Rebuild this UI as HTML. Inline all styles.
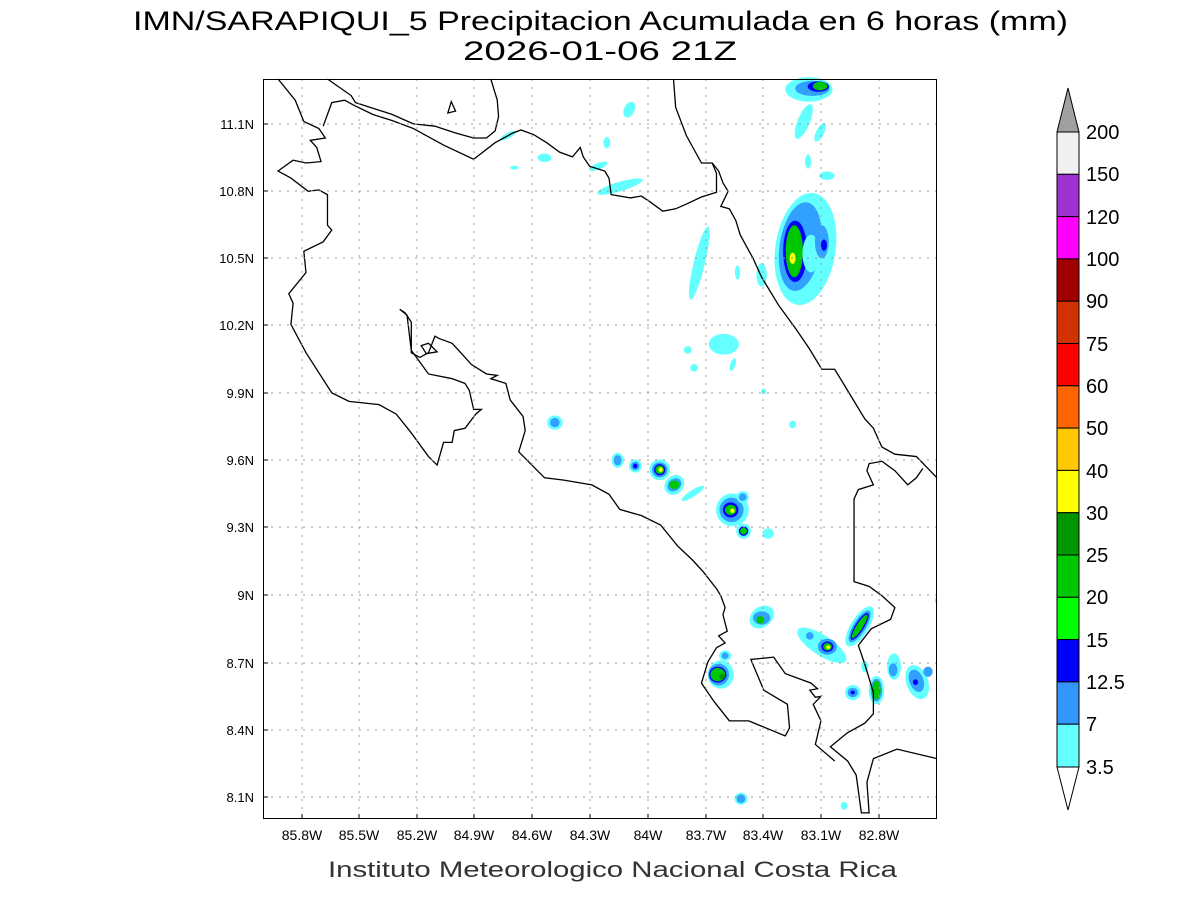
<!DOCTYPE html>
<html><head><style>
body{margin:0;background:#fff;}
svg text{font-family:"Liberation Sans",sans-serif;}
</style></head><body>
<svg width="1200" height="900" viewBox="0 0 1200 900" xmlns="http://www.w3.org/2000/svg">
<rect width="1200" height="900" fill="#fff"/>
<text x="133" y="30" font-size="27" textLength="935" lengthAdjust="spacingAndGlyphs" fill="#000">IMN/SARAPIQUI_5 Precipitacion Acumulada en 6 horas (mm)</text>
<text x="463" y="60" font-size="27" textLength="274" lengthAdjust="spacingAndGlyphs" fill="#000">2026-01-06 21Z</text>

<g transform="translate(263,79) scale(0.42985,0.47194)">
 <g>
  <ellipse cx="1262" cy="360" rx="70" ry="120" fill="#64ffff" transform="rotate(10 1262 360)"/>
  <ellipse cx="1250" cy="355" rx="48" ry="95" fill="#32a0ff" transform="rotate(10 1250 355)"/>
  <ellipse cx="1238" cy="365" rx="28" ry="65" fill="#0000ff"/>
  <ellipse cx="1236" cy="365" rx="20" ry="55" fill="#00c800"/>
  <ellipse cx="1232" cy="380" rx="7" ry="12" fill="#ffff00"/>
  <ellipse cx="1275" cy="370" rx="20" ry="40" fill="#64ffff"/>
  <ellipse cx="1300" cy="345" rx="16" ry="35" fill="#32a0ff"/>
  <ellipse cx="1305" cy="352" rx="7" ry="12" fill="#0000ff"/>
  <ellipse cx="1270" cy="22" rx="55" ry="26" fill="#64ffff"/>
  <ellipse cx="1278" cy="20" rx="40" ry="16" fill="#32a0ff"/>
  <ellipse cx="1292" cy="16" rx="25" ry="11" fill="#0000ff"/>
  <ellipse cx="1296" cy="15" rx="17" ry="9" fill="#00c800"/>
  <ellipse cx="1258" cy="90" rx="14" ry="40" fill="#64ffff" transform="rotate(25 1258 90)"/>
  <ellipse cx="1296" cy="113" rx="9" ry="22" fill="#64ffff" transform="rotate(30 1296 113)"/>
  <ellipse cx="1268" cy="175" rx="7" ry="15" fill="#64ffff"/>
  <ellipse cx="1312" cy="205" rx="18" ry="9" fill="#64ffff"/>
  <ellipse cx="852" cy="65" rx="12" ry="18" fill="#64ffff" transform="rotate(30 852 65)"/>
  <ellipse cx="800" cy="135" rx="8" ry="12" fill="#64ffff"/>
  <ellipse cx="655" cy="167" rx="16" ry="9" fill="#64ffff"/>
  <ellipse cx="585" cy="188" rx="10" ry="4" fill="#64ffff"/>
  <ellipse cx="570" cy="120" rx="20" ry="6" fill="#64ffff" transform="rotate(-25 570 120)"/>
  <ellipse cx="780" cy="185" rx="22" ry="7" fill="#64ffff" transform="rotate(-20 780 185)"/>
  <ellipse cx="830" cy="228" rx="55" ry="10" fill="#64ffff" transform="rotate(-15 830 228)"/>
  <ellipse cx="1015" cy="390" rx="13" ry="80" fill="#64ffff" transform="rotate(15 1015 390)"/>
  <ellipse cx="1104" cy="410" rx="6" ry="15" fill="#64ffff"/>
  <ellipse cx="1160" cy="415" rx="12" ry="25" fill="#64ffff"/>
  <ellipse cx="1072" cy="562" rx="35" ry="22" fill="#64ffff"/>
  <ellipse cx="988" cy="574" rx="9" ry="8" fill="#64ffff"/>
  <ellipse cx="1003" cy="612" rx="9" ry="8" fill="#64ffff"/>
  <ellipse cx="1093" cy="605" rx="6" ry="14" fill="#64ffff" transform="rotate(20 1093 605)"/>
  <ellipse cx="1165" cy="662" rx="6" ry="6" fill="#64ffff"/>
  <ellipse cx="1232" cy="732" rx="8" ry="8" fill="#64ffff"/>
  <ellipse cx="679" cy="728" rx="18" ry="15" fill="#64ffff"/><ellipse cx="679" cy="728" rx="11" ry="10" fill="#32a0ff"/>
  <ellipse cx="825" cy="808" rx="14" ry="16" fill="#64ffff"/><ellipse cx="825" cy="808" rx="9" ry="11" fill="#32a0ff"/>
  <ellipse cx="866" cy="820" rx="15" ry="14" fill="#64ffff"/><ellipse cx="866" cy="820" rx="10" ry="9" fill="#32a0ff"/><ellipse cx="866" cy="820" rx="5" ry="5" fill="#0000ff"/>
  <ellipse cx="923" cy="828" rx="24" ry="22" fill="#64ffff"/><ellipse cx="923" cy="828" rx="18" ry="16" fill="#32a0ff"/><ellipse cx="923" cy="828" rx="13" ry="12" fill="#0000ff"/><ellipse cx="923" cy="828" rx="10" ry="9" fill="#00c800"/><ellipse cx="925" cy="828" rx="5" ry="5" fill="#ffff00"/>
  <ellipse cx="957" cy="860" rx="24" ry="20" fill="#64ffff" transform="rotate(-30 957 860)"/><ellipse cx="957" cy="860" rx="17" ry="13" fill="#32a0ff" transform="rotate(-30 957 860)"/><ellipse cx="957" cy="860" rx="12" ry="9" fill="#00c800"/>
  <ellipse cx="1000" cy="878" rx="30" ry="7" fill="#64ffff" transform="rotate(-30 1000 878)"/>
  <ellipse cx="1092" cy="913" rx="38" ry="35" fill="#64ffff"/><ellipse cx="1090" cy="913" rx="28" ry="26" fill="#32a0ff"/><ellipse cx="1088" cy="913" rx="18" ry="16" fill="#0000ff"/><ellipse cx="1088" cy="913" rx="13" ry="11" fill="#00c800"/><ellipse cx="1092" cy="915" rx="5" ry="5" fill="#ffff00"/>
  <ellipse cx="1116" cy="886" rx="14" ry="13" fill="#64ffff"/><ellipse cx="1116" cy="886" rx="9" ry="8" fill="#32a0ff"/>
  <ellipse cx="1118" cy="958" rx="17" ry="16" fill="#64ffff"/><ellipse cx="1118" cy="958" rx="11" ry="10" fill="#0000ff"/><ellipse cx="1118" cy="958" rx="8" ry="7" fill="#00c800"/>
  <ellipse cx="1175" cy="963" rx="13" ry="11" fill="#64ffff"/>
  <ellipse cx="1160" cy="1140" rx="30" ry="22" fill="#64ffff" transform="rotate(-30 1160 1140)"/><ellipse cx="1160" cy="1142" rx="20" ry="14" fill="#32a0ff"/><ellipse cx="1157" cy="1146" rx="9" ry="8" fill="#00c800"/>
  <ellipse cx="1300" cy="1200" rx="65" ry="22" fill="#64ffff" transform="rotate(30 1300 1200)"/>
  <ellipse cx="1313" cy="1203" rx="22" ry="17" fill="#32a0ff"/><ellipse cx="1313" cy="1203" rx="14" ry="11" fill="#0000ff"/><ellipse cx="1313" cy="1203" rx="10" ry="8" fill="#00c800"/><ellipse cx="1315" cy="1204" rx="5" ry="4" fill="#ffff00"/>
  <ellipse cx="1388" cy="1160" rx="20" ry="50" fill="#64ffff" transform="rotate(35 1388 1160)"/><ellipse cx="1388" cy="1160" rx="14" ry="40" fill="#32a0ff" transform="rotate(35 1388 1160)"/><ellipse cx="1388" cy="1160" rx="10" ry="34" fill="#0000ff" transform="rotate(35 1388 1160)"/><ellipse cx="1388" cy="1160" rx="7" ry="30" fill="#00c800" transform="rotate(35 1388 1160)"/>
  <ellipse cx="1272" cy="1180" rx="9" ry="8" fill="#32a0ff"/>
  <ellipse cx="1065" cy="1262" rx="30" ry="30" fill="#64ffff"/><ellipse cx="1060" cy="1262" rx="24" ry="23" fill="#32a0ff"/><ellipse cx="1058" cy="1262" rx="20" ry="17" fill="#0000ff"/><ellipse cx="1058" cy="1262" rx="17" ry="14" fill="#00c800"/><ellipse cx="1068" cy="1266" rx="7" ry="6" fill="#009600"/>
  <ellipse cx="1075" cy="1222" rx="14" ry="11" fill="#64ffff"/><ellipse cx="1075" cy="1222" rx="8" ry="7" fill="#32a0ff"/>
  <ellipse cx="1372" cy="1300" rx="18" ry="16" fill="#64ffff"/><ellipse cx="1372" cy="1300" rx="12" ry="10" fill="#32a0ff"/><ellipse cx="1372" cy="1300" rx="5" ry="4" fill="#0000ff"/>
  <ellipse cx="1427" cy="1295" rx="18" ry="30" fill="#64ffff"/><ellipse cx="1427" cy="1295" rx="13" ry="24" fill="#32a0ff"/><ellipse cx="1427" cy="1295" rx="10" ry="20" fill="#00c800"/>
  <ellipse cx="1400" cy="1245" rx="8" ry="12" fill="#64ffff"/>
  <ellipse cx="1468" cy="1245" rx="16" ry="28" fill="#64ffff"/><ellipse cx="1466" cy="1252" rx="10" ry="14" fill="#32a0ff"/>
  <ellipse cx="1522" cy="1278" rx="25" ry="38" fill="#64ffff" transform="rotate(-25 1522 1278)"/><ellipse cx="1520" cy="1275" rx="16" ry="25" fill="#32a0ff" transform="rotate(-25 1520 1275)"/><ellipse cx="1518" cy="1278" rx="6" ry="6" fill="#0000ff"/>
  <ellipse cx="1547" cy="1256" rx="11" ry="11" fill="#32a0ff"/>
  <ellipse cx="1112" cy="1525" rx="15" ry="13" fill="#64ffff"/><ellipse cx="1112" cy="1525" rx="10" ry="9" fill="#32a0ff"/>
  <ellipse cx="1352" cy="1540" rx="8" ry="8" fill="#64ffff"/>
  <ellipse cx="1566" cy="1105" rx="3" ry="6" fill="#64ffff"/>
 </g>
 <g fill="none" stroke="#000" stroke-width="1.3">
  <path vector-effect="non-scaling-stroke" d="M150,0 L205,35 L215,50 L300,75 L350,95 L400,100 L450,115 L490,125 L520,125 L540,110 L548,80 L545,45 L530,0"/>
  <path vector-effect="non-scaling-stroke" d="M140,100 L160,50 L190,45 L210,55 L255,75 L300,88 L350,105 L420,140 L490,170 L540,135 L580,115 L600,108 L630,118 L660,135 L690,155 L720,165 L738,145 L745,165 L760,185 L795,195 L805,210 L810,245 L855,252 L880,248 L900,260 L930,280 L960,275 L985,265 L1020,250 L1055,240 L1055,200 L1045,178 L1020,178 L985,120 L960,60 L955,0"/>
  <path vector-effect="non-scaling-stroke" d="M1045,178 L1060,195 L1070,220 L1082,238 L1065,270 L1085,275 L1100,300 L1110,330 L1140,380 L1160,420 L1200,480 L1240,530 L1270,570 L1300,615 L1330,615 L1360,660 L1400,720 L1420,740 L1440,780 L1470,795 L1520,800 L1568,845"/>
  <path vector-effect="non-scaling-stroke" d="M1535,825 L1520,845 L1500,860 L1470,830 L1440,810 L1410,815 L1405,830 L1420,860 L1385,870 L1375,890 L1375,1065 L1410,1075 L1440,1095 L1470,1120 L1460,1145 L1415,1165 L1385,1200 L1400,1240 L1420,1300 L1420,1345 L1400,1365 L1360,1385 L1320,1415 L1360,1445 L1380,1475 L1392,1555 L1410,1555 L1405,1490 L1420,1440 L1475,1420 L1568,1440"/>
  <path vector-effect="non-scaling-stroke" d="M35,0 L75,45 L95,90 L130,105 L145,125 L110,130 L125,145 L135,175 L100,178 L70,172 L35,195 L65,210 L105,238 L130,235 L150,245 L150,310 L160,320 L140,345 L95,365 L100,410 L60,455 L70,475 L65,520 L100,580 L160,665 L200,683 L270,690 L310,710 L345,750 L385,800 L405,818 L420,770 L440,770 L445,745 L470,740 L495,710 L508,700 L490,700 L480,660 L470,645 L440,635 L385,625 L365,600 L345,575 L335,500 L318,488 L330,495 L345,515 L345,580 L365,590 L385,580 L400,545 L410,550 L440,560 L460,580 L485,605 L520,625 L545,628 L530,635 L565,645 L575,680 L605,715 L610,745 L595,790 L655,845 L700,850 L765,860 L805,880 L830,912 L880,925 L925,945 L965,990 L1000,1020 L1025,1045 L1055,1080 L1065,1095 L1075,1120 L1070,1135 L1080,1170 L1060,1180 L1075,1195 L1055,1205 L1035,1235 L1020,1280 L1050,1320 L1085,1360 L1130,1360 L1215,1392 L1225,1375 L1220,1325 L1165,1295 L1135,1230 L1188,1225 L1215,1260 L1275,1280 L1290,1292 L1272,1295 L1285,1310 L1298,1308 L1280,1325 L1298,1360 L1285,1410 L1330,1445"/>
  <path vector-effect="non-scaling-stroke" d="M368,565 L385,560 L405,578 L380,582 Z"/>
  <path vector-effect="non-scaling-stroke" d="M430,72 L438,48 L448,68 Z"/>
 </g>
</g>

<g stroke="#999" stroke-width="1" stroke-dasharray="2,6">
 <line x1="302" y1="79" x2="302" y2="819"/><line x1="359" y1="79" x2="359" y2="819"/><line x1="417" y1="79" x2="417" y2="819"/><line x1="474" y1="79" x2="474" y2="819"/><line x1="532" y1="79" x2="532" y2="819"/><line x1="590" y1="79" x2="590" y2="819"/><line x1="648" y1="79" x2="648" y2="819"/><line x1="706" y1="79" x2="706" y2="819"/><line x1="763" y1="79" x2="763" y2="819"/><line x1="821" y1="79" x2="821" y2="819"/><line x1="879" y1="79" x2="879" y2="819"/>
 <line x1="263" y1="124" x2="937" y2="124"/><line x1="263" y1="191" x2="937" y2="191"/><line x1="263" y1="258" x2="937" y2="258"/><line x1="263" y1="325" x2="937" y2="325"/><line x1="263" y1="393" x2="937" y2="393"/><line x1="263" y1="460" x2="937" y2="460"/><line x1="263" y1="527" x2="937" y2="527"/><line x1="263" y1="595" x2="937" y2="595"/><line x1="263" y1="663" x2="937" y2="663"/><line x1="263" y1="730" x2="937" y2="730"/><line x1="263" y1="797" x2="937" y2="797"/>
</g>
<rect x="263.5" y="79.5" width="673" height="739" fill="none" stroke="#000" stroke-width="1"/>
<g stroke="#000" stroke-width="1">
 <line x1="302" y1="819" x2="302" y2="814"/><line x1="359" y1="819" x2="359" y2="814"/><line x1="417" y1="819" x2="417" y2="814"/><line x1="474" y1="819" x2="474" y2="814"/><line x1="532" y1="819" x2="532" y2="814"/><line x1="590" y1="819" x2="590" y2="814"/><line x1="648" y1="819" x2="648" y2="814"/><line x1="706" y1="819" x2="706" y2="814"/><line x1="763" y1="819" x2="763" y2="814"/><line x1="821" y1="819" x2="821" y2="814"/><line x1="879" y1="819" x2="879" y2="814"/>
 <line x1="263" y1="124" x2="268" y2="124"/><line x1="263" y1="191" x2="268" y2="191"/><line x1="263" y1="258" x2="268" y2="258"/><line x1="263" y1="325" x2="268" y2="325"/><line x1="263" y1="393" x2="268" y2="393"/><line x1="263" y1="460" x2="268" y2="460"/><line x1="263" y1="527" x2="268" y2="527"/><line x1="263" y1="595" x2="268" y2="595"/><line x1="263" y1="663" x2="268" y2="663"/><line x1="263" y1="730" x2="268" y2="730"/><line x1="263" y1="797" x2="268" y2="797"/>
</g>
<g font-size="14" fill="#000" text-anchor="middle">
 <text x="302" y="840">85.8W</text><text x="359" y="840">85.5W</text><text x="417" y="840">85.2W</text><text x="474" y="840">84.9W</text><text x="532" y="840">84.6W</text><text x="590" y="840">84.3W</text><text x="648" y="840">84W</text><text x="706" y="840">83.7W</text><text x="763" y="840">83.4W</text><text x="821" y="840">83.1W</text><text x="879" y="840">82.8W</text>
</g>
<g font-size="13" fill="#000" text-anchor="end">
 <text x="254" y="129">11.1N</text><text x="254" y="196">10.8N</text><text x="254" y="263">10.5N</text><text x="254" y="330">10.2N</text><text x="254" y="398">9.9N</text><text x="254" y="465">9.6N</text><text x="254" y="532">9.3N</text><text x="254" y="600">9N</text><text x="254" y="668">8.7N</text><text x="254" y="735">8.4N</text><text x="254" y="802">8.1N</text>
</g>
<text x="328" y="877" font-size="22" textLength="569" lengthAdjust="spacingAndGlyphs" fill="#333">Instituto Meteorologico Nacional Costa Rica</text>

<g stroke="#000" stroke-width="1">
 <polygon points="1057,132 1079,132 1068,88" fill="#a0a0a0"/>
 <rect x="1057" y="132" width="22" height="42.3" fill="#f0f0f0"/>
 <rect x="1057" y="174.3" width="22" height="42.3" fill="#a032d2"/>
 <rect x="1057" y="216.6" width="22" height="42.3" fill="#ff00ff"/>
 <rect x="1057" y="258.9" width="22" height="42.3" fill="#a00000"/>
 <rect x="1057" y="301.2" width="22" height="42.3" fill="#d23200"/>
 <rect x="1057" y="343.5" width="22" height="42.3" fill="#ff0000"/>
 <rect x="1057" y="385.8" width="22" height="42.3" fill="#ff6400"/>
 <rect x="1057" y="428.1" width="22" height="42.3" fill="#ffc800"/>
 <rect x="1057" y="470.4" width="22" height="42.3" fill="#ffff00"/>
 <rect x="1057" y="512.7" width="22" height="42.3" fill="#009600"/>
 <rect x="1057" y="555" width="22" height="42.3" fill="#00c800"/>
 <rect x="1057" y="597.3" width="22" height="42.3" fill="#00ff00"/>
 <rect x="1057" y="639.6" width="22" height="42.3" fill="#0000ff"/>
 <rect x="1057" y="681.9" width="22" height="42.3" fill="#3296ff"/>
 <rect x="1057" y="724.2" width="22" height="42.8" fill="#64ffff"/>
 <polygon points="1057,767 1079,767 1068,810" fill="#fff"/>
</g>
<g font-size="20" fill="#000">
 <text x="1086" y="139">200</text><text x="1086" y="181">150</text><text x="1086" y="224">120</text><text x="1086" y="266">100</text><text x="1086" y="308">90</text><text x="1086" y="351">75</text><text x="1086" y="393">60</text><text x="1086" y="435">50</text><text x="1086" y="478">40</text><text x="1086" y="520">30</text><text x="1086" y="562">25</text><text x="1086" y="604">20</text><text x="1086" y="647">15</text><text x="1086" y="689">12.5</text><text x="1086" y="731">7</text><text x="1086" y="774">3.5</text>
</g>
</svg>
</body></html>
